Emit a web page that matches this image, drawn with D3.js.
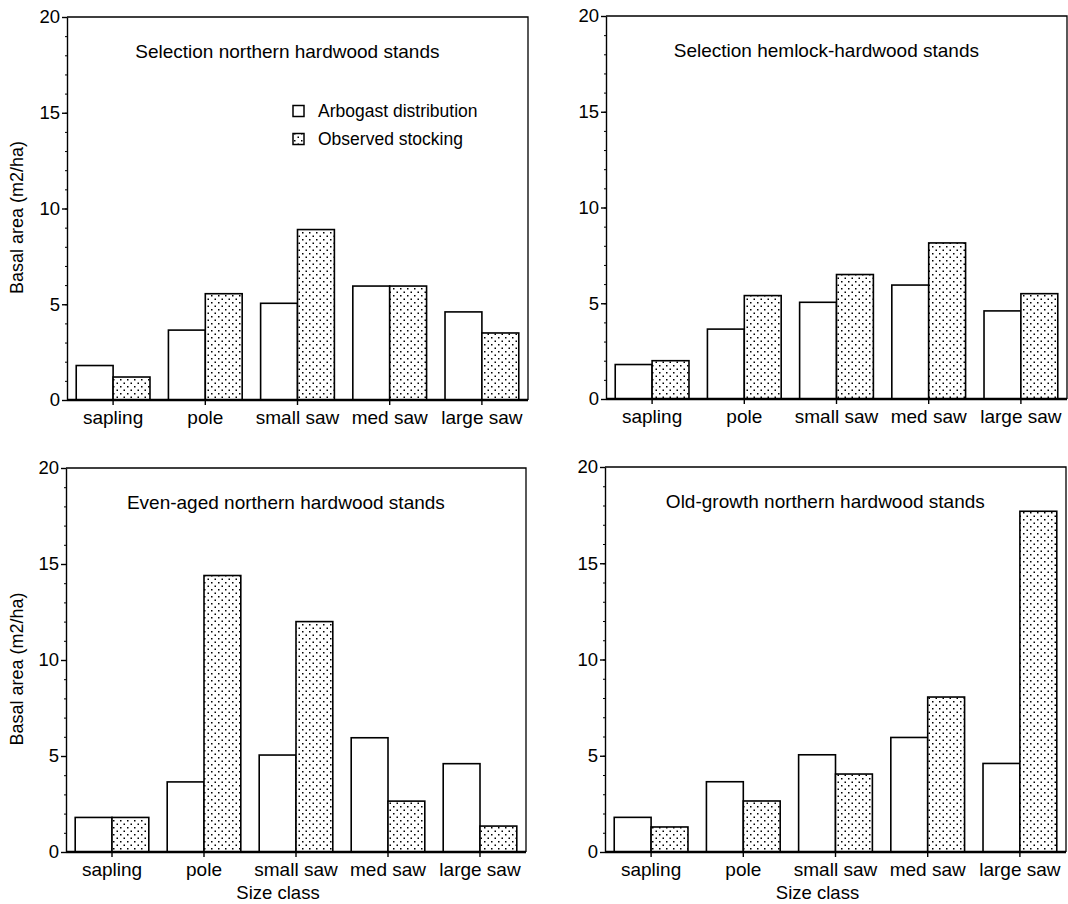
<!DOCTYPE html>
<html>
<head>
<meta charset="utf-8">
<script src="https://cdn.jsdelivr.net/npm/d3@7"></script>
<style>
  body { margin: 0; background: #fff; }
  text { font-family: "Liberation Sans", Arial, sans-serif; fill: #000; }
</style>
</head>
<body>
<script>
// size classes and tick values
var categories = ["sapling", "pole", "small saw", "med saw", "large saw"];
var yTicks = [0, 5, 10, 15, 20];
var legendLabels = ["Arbogast distribution", "Observed stocking"];
var panelTitles = ["Selection northern hardwood stands", "Selection hemlock-hardwood stands",
                   "Even-aged northern hardwood stands", "Old-growth northern hardwood stands"];

// basal area (m2/ha)
var arbogast = [1.8, 3.65, 5.05, 5.95, 4.6];
var obsSelNorthern = [1.2, 5.55, 8.9, 5.95, 3.5];
var obsSelHemlock = [2.0, 5.4, 6.5, 8.15, 5.5];
var obsEvenAged = [1.8, 14.4, 12.0, 2.65, 1.35];
var obsOldGrowth = [1.3, 2.65, 4.05, 8.05, 17.7];

var width = 1068, height = 904;

var svg = d3.select("body").append("svg")
    .attr("width", width)
    .attr("height", height);

//dot screen for the observed bars
var pat = svg.append("defs").append("pattern")
    .attr("id", "dots")
    .attr("patternUnits", "userSpaceOnUse")
    .attr("width", 7)
    .attr("height", 7);
pat.append("rect").attr("width", 7).attr("height", 7).attr("fill", "#fff");
pat.append("rect").attr("x", 1).attr("y", 1).attr("width", 1.5).attr("height", 1.5).attr("fill", "#000");
pat.append("rect").attr("x", 4.5).attr("y", 4.5).attr("width", 1.5).attr("height", 1.5).attr("fill", "#000");

var panels = [
  {left: 67, right: 528, top: 17, bottom: 400, obs: obsSelNorthern, title: panelTitles[0], yLabel: true, xLabel: false, legend: true},
  {left: 606, right: 1067, top: 16, bottom: 399, obs: obsSelHemlock, title: panelTitles[1], yLabel: false, xLabel: false, legend: false},
  {left: 66, right: 526, top: 468, bottom: 852, obs: obsEvenAged, title: panelTitles[2], yLabel: true, xLabel: true, legend: false},
  {left: 605, right: 1066, top: 467, bottom: 852, obs: obsOldGrowth, title: panelTitles[3], yLabel: false, xLabel: true, legend: false}
];

panels.forEach(drawPanel);

function drawPanel(p) {
  var x = d3.scaleBand()
      .domain(categories)
      .range([p.left, p.right])
      .paddingInner(0.2)
      .paddingOuter(0.1);

  var y = d3.scaleLinear()
      .domain([0, 20])
      .range([p.bottom, p.top]);

  var g = svg.append("g");

  //top and right border
  g.append("path")
    .attr("d", "M" + p.left + "," + y(20) + "H" + p.right + "V" + y(0))
    .attr("fill", "none")
    .attr("stroke", "#000")
    .attr("stroke-width", 1.3);

  //bars: open = Arbogast, dotted = observed
  var series = [{vals: arbogast, fill: "#fff"}, {vals: p.obs, fill: "url(#dots)"}];
  var half = x.bandwidth() / 2;
  series.forEach(function(s, i) {
    g.selectAll(".bar" + i)
      .data(categories)
      .enter().append("rect")
        .attr("class", "bar" + i)
        .attr("x", function(d) { return x(d) + i * half; })
        .attr("y", function(d, j) { return y(s.vals[j]); })
        .attr("width", half)
        .attr("height", function(d, j) { return y(0) - y(s.vals[j]); })
        .attr("fill", s.fill)
        .attr("stroke", "#000")
        .attr("stroke-width", 1.6);
  });

  //heavy baseline
  g.append("line")
    .attr("x1", p.left).attr("x2", p.right)
    .attr("y1", y(0)).attr("y2", y(0))
    .attr("stroke", "#000")
    .attr("stroke-width", 2.6);

  //minor ticks every unit
  g.append("g")
    .attr("transform", "translate(" + p.left + ",0)")
    .call(d3.axisLeft(y).ticks(20).tickSize(2).tickSizeOuter(0).tickFormat(""))
    .call(function(a) { a.select(".domain").remove(); });

  var yAxis = g.append("g")
    .attr("transform", "translate(" + p.left + ",0)")
    .call(d3.axisLeft(y).tickValues(yTicks).tickSize(5).tickPadding(2).tickSizeOuter(0));
  yAxis.selectAll("path, line").attr("stroke-width", 1.4);
  yAxis.selectAll("text")
    .attr("font-size", 18.5)
    .attr("font-family", "Liberation Sans, Arial, sans-serif");

  var xAxis = g.append("g")
    .attr("transform", "translate(0," + y(0) + ")")
    .call(d3.axisBottom(x).tickSize(5).tickPadding(6).tickSizeOuter(0));
  xAxis.select(".domain").remove();
  xAxis.selectAll("line").attr("stroke-width", 1.4);
  xAxis.selectAll("text")
    .attr("font-size", 19)
    .attr("font-family", "Liberation Sans, Arial, sans-serif");

  //panel title
  g.append("text")
    .attr("x", p.left + (p.right - p.left) * 0.478)
    .attr("y", p.top + 41)
    .attr("text-anchor", "middle")
    .attr("font-size", 19)
    .text(p.title);

  if (p.yLabel) {
    g.append("text")
      .attr("transform", "translate(23," + ((p.top + p.bottom) / 2 + 9) + ") rotate(-90)")
      .attr("text-anchor", "middle")
      .attr("font-size", 18)
      .text("Basal area (m2/ha)");
  }

  if (p.xLabel) {
    g.append("text")
      .attr("x", (p.left + p.right) / 2 - 18)
      .attr("y", p.bottom + 47)
      .attr("text-anchor", "middle")
      .attr("font-size", 18.5)
      .text("Size class");
  }

  if (p.legend) {
    var fills = ["#fff", "url(#dots)"];
    var lg = g.selectAll(".legend")
      .data(legendLabels)
      .enter().append("g")
        .attr("class", "legend")
        .attr("transform", function(d, i) { return "translate(293," + (111 + i * 28) + ")"; });
    lg.append("rect")
      .attr("x", 0).attr("y", -5.5)
      .attr("width", 11).attr("height", 11)
      .attr("fill", function(d, i) { return fills[i]; })
      .attr("stroke", "#000")
      .attr("stroke-width", 1.5);
    lg.append("text")
      .attr("x", 25)
      .attr("y", 6)
      .attr("font-size", 17.5)
      .text(function(d) { return d; });
  }
}
</script>
</body>
</html>
